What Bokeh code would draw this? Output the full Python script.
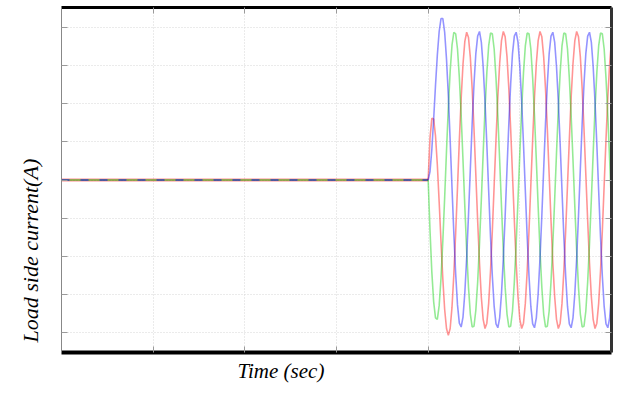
from bokeh.plotting import figure
from bokeh.models import FixedTicker, LinearAxis, Title, CustomJSTickFormatter, Range1d
from bokeh.embed import file_html
from bokeh.resources import INLINE

# Sample times (s): zero until the load is switched in at 0.2 s, then 1 ms samples
time_s = [0.0] + [round(0.2 + k / 1000, 3) for k in range(101)]

# Load side phase currents (A)
ia = [0.0,
      0.0, 5.5, 8.1, 8.0, 5.8, 2.0, -2.9, -8.1, -13.0, -17.0,
      -19.5, -20.4, -19.5, -16.7, -12.4, -7.0, -1.0, 5.2, 10.7, 15.2,
      18.2, 19.4, 18.7, 16.1, 12.0, 6.7, 0.7, -5.4, -10.9, -15.4,
      -18.3, -19.5, -18.8, -16.2, -12.0, -6.7, -0.7, 5.3, 10.9, 15.3,
      18.3, 19.5, 18.8, 16.2, 12.0, 6.7, 0.7, -5.3, -10.9, -15.3,
      -18.3, -19.5, -18.8, -16.2, -12.0, -6.7, -0.7, 5.3, 10.9, 15.3,
      18.3, 19.5, 18.8, 16.2, 12.0, 6.7, 0.7, -5.3, -10.9, -15.3,
      -18.3, -19.5, -18.8, -16.2, -12.0, -6.7, -0.7, 5.3, 10.9, 15.3,
      18.3, 19.5, 18.8, 16.2, 12.0, 6.7, 0.7, -5.3, -10.9, -15.3,
      -18.3, -19.5, -18.8, -16.2, -12.0, -6.7, -0.7, 5.3, 10.9, 15.3,
      18.3]
ib = [0.0,
      0.0, -6.6, -12.1, -16.0, -18.1, -18.3, -16.5, -12.9, -8.0, -2.3,
      3.8, 9.5, 14.3, 17.7, 19.4, 19.2, 17.2, 13.5, 8.5, 2.6,
      -3.5, -9.3, -14.1, -17.6, -19.3, -19.2, -17.1, -13.4, -8.4, -2.6,
      3.5, 9.3, 14.1, 17.6, 19.3, 19.2, 17.2, 13.4, 8.4, 2.6,
      -3.5, -9.3, -14.1, -17.6, -19.3, -19.2, -17.2, -13.4, -8.4, -2.6,
      3.5, 9.3, 14.1, 17.6, 19.3, 19.2, 17.2, 13.4, 8.4, 2.6,
      -3.5, -9.3, -14.1, -17.6, -19.3, -19.2, -17.2, -13.4, -8.4, -2.6,
      3.5, 9.3, 14.1, 17.6, 19.3, 19.2, 17.2, 13.4, 8.4, 2.6,
      -3.5, -9.3, -14.1, -17.6, -19.3, -19.2, -17.2, -13.4, -8.4, -2.6,
      3.5, 9.3, 14.1, 17.6, 19.3, 19.2, 17.2, 13.4, 8.4, 2.6,
      -3.5]
ic = [0.0,
      0.0, 1.1, 4.0, 8.0, 12.4, 16.4, 19.5, 21.2, 21.2, 19.4,
      15.9, 11.1, 5.2, -1.0, -7.0, -12.3, -16.4, -18.8, -19.3, -18.0,
      -14.8, -10.2, -4.6, 1.4, 7.4, 12.6, 16.6, 18.9, 19.5, 18.1,
      14.9, 10.3, 4.7, -1.4, -7.4, -12.6, -16.6, -18.9, -19.4, -18.1,
      -14.9, -10.3, -4.7, 1.4, 7.4, 12.6, 16.6, 18.9, 19.4, 18.1,
      14.9, 10.3, 4.7, -1.4, -7.4, -12.6, -16.6, -18.9, -19.4, -18.1,
      -14.9, -10.3, -4.7, 1.4, 7.4, 12.6, 16.6, 18.9, 19.4, 18.1,
      14.9, 10.3, 4.7, -1.4, -7.4, -12.6, -16.6, -18.9, -19.4, -18.1,
      -14.9, -10.3, -4.7, 1.4, 7.4, 12.6, 16.6, 18.9, 19.4, 18.1,
      14.9, 10.3, 4.7, -1.4, -7.4, -12.6, -16.6, -18.9, -19.4, -18.1,
      -14.9]

x_ticks = [0.05, 0.1, 0.15, 0.2, 0.25]
y_ticks = [-20, -15, -10, -5, 0, 5, 10, 15, 20]
x_label = "Time (sec)"
y_label = "Load side current(A)"

W, H = 615, 387
p = figure(width=W, height=H, output_backend="svg", toolbar_location=None,
           x_range=Range1d(0, 0.3), y_range=Range1d(-22.65, 22.65))
p.min_border_left = 61
p.min_border_right = 4
p.min_border_top = 7
p.min_border_bottom = H - 7 - 345
p.outline_line_color = None
p.background_fill_color = "white"
p.border_fill_color = "white"

RED, GREEN, BLUE = "#ff0000", "#00cc00", "#0000ff"
# before switching: the three overlapping zero traces
p.line(time_s[:2], ia[:2], line_color=RED, line_alpha=0.45, line_width=3)
p.line(time_s[:2], ib[:2], line_color=GREEN, line_alpha=0.55, line_width=1.6)
p.line(time_s[:2], ic[:2], line_color=BLUE, line_alpha=0.45, line_width=2,
       line_dash="8 11")
# after switching
p.line(time_s[1:], ia[1:], line_color=RED, line_alpha=0.42, line_width=1.6)
p.line(time_s[1:], ib[1:], line_color=GREEN, line_alpha=0.42, line_width=1.6)
p.line(time_s[1:], ic[1:], line_color=BLUE, line_alpha=0.42, line_width=1.6)

xt = FixedTicker(ticks=x_ticks)
yt = FixedTicker(ticks=y_ticks)
p.xaxis.ticker = xt
p.yaxis.ticker = yt
p.xgrid.ticker = xt
p.ygrid.ticker = yt
p.add_layout(LinearAxis(ticker=xt), "above")
p.add_layout(LinearAxis(ticker=yt), "right")
for ax in p.axis:
    ax.formatter = CustomJSTickFormatter(code="return ''")
    ax.major_tick_in = 6
    ax.major_tick_out = 0
    ax.minor_tick_line_color = None
    ax.major_tick_line_color = "#9a9a9a"
    ax.major_label_standoff = 0
p.below[0].axis_line_width = 4
p.below[0].axis_line_color = "black"
p.above[0].axis_line_width = 3
p.above[0].axis_line_color = "black"
p.left[0].axis_line_width = 1
p.left[0].axis_line_color = "#888888"
p.right[0].axis_line_width = 3
p.right[0].axis_line_color = "#333333"
p.xgrid.grid_line_color = "#d6d6d6"
p.xgrid.grid_line_dash = "1 2"
p.ygrid.grid_line_color = "#d6d6d6"
p.ygrid.grid_line_dash = "1 2"

p.add_layout(Title(text=x_label, align="left", offset=176, standoff=8,
                   text_font="Liberation Serif", text_font_style="italic",
                   text_font_size="21px", text_color="black"), "below")
p.add_layout(Title(text=y_label, align="left", offset=10, standoff=34,
                   vertical_align="top",
                   text_font="Liberation Serif", text_font_style="italic",
                   text_font_size="22px", text_color="black"), "left")

open("out.html", "w").write(file_html(p, INLINE))
